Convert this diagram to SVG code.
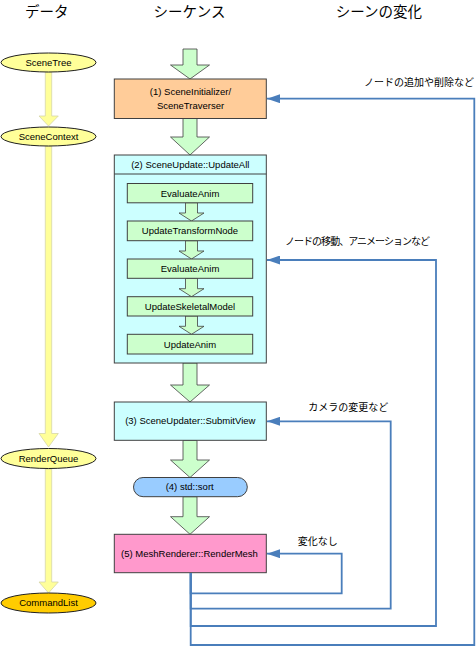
<svg xmlns="http://www.w3.org/2000/svg" width="476" height="647" viewBox="0 0 476 647">
<style>
.hdr{font-family:"Noto Sans CJK JP","Noto Sans CJK SC",sans-serif;font-size:14.5px;fill:#000;text-anchor:middle}
.lbl{font-family:"Noto Sans CJK JP","Noto Sans CJK SC",sans-serif;font-size:10px;fill:#000}
.t{font-family:"Liberation Sans",Arial,sans-serif;font-size:9.5px;fill:#000;text-anchor:middle}
.box{stroke:#404040;stroke-width:1}
.garrow{fill:#CCFFCC;stroke:#404040;stroke-width:0.8}
.yarrow{fill:#FFFF99;stroke:#D6D6A8;stroke-width:0.8}
.ell{fill:#FFFF99;stroke:#202020;stroke-width:1}
.conn{fill:none;stroke:#4A7EBB;stroke-width:1.8}
</style>
<defs>
<marker id="ah" markerUnits="userSpaceOnUse" viewBox="0 0 13 9" refX="13" refY="4.5" markerWidth="13" markerHeight="9" orient="auto">
<path d="M0,0 L13,4.5 L0,9 z" fill="#4A7EBB"/>
</marker>
</defs>

<g id="headers">
<text class="hdr" x="46.7" y="17">データ</text>
<text class="hdr" x="189.5" y="17">シーケンス</text>
<text class="hdr" x="378.8" y="17">シーンの変化</text>
</g>

<g id="data-arrows">
<path class="yarrow" d="M45.3,72 H51.7 V116 H58.3 L48.5,126 L39,116 H45.3 Z"/>
<path class="yarrow" d="M45.3,146 H51.7 V433.5 H58.3 L48.5,447 L39,433.5 H45.3 Z"/>
<path class="yarrow" d="M45.3,469 H51.7 V582 H58.3 L48.5,593 L39,582 H45.3 Z"/>
</g>

<g id="SceneTree"><ellipse class="ell" cx="48.5" cy="62.5" rx="47.5" ry="9.5"/><text class="t" x="48.5" y="65.9">SceneTree</text></g>
<g id="SceneContext"><ellipse class="ell" cx="48.5" cy="136.5" rx="47.5" ry="9.5"/><text class="t" x="48.5" y="139.9">SceneContext</text></g>
<g id="RenderQueue"><ellipse class="ell" cx="48.5" cy="458.5" rx="47.5" ry="10"/><text class="t" x="48.5" y="461.9">RenderQueue</text></g>
<g id="CommandList"><ellipse class="ell" cx="48.5" cy="603" rx="47.5" ry="10" style="fill:#FFCC00"/><text class="t" x="48.5" y="606.4">CommandList</text></g>

<g id="flow-arrows">
<path class="garrow" d="M183,49 H197 V65 H209.5 L190,79 L170.5,65 H183 Z"/>
<path class="garrow" d="M183,118.5 H197 V137 H209.5 L190,155 L170.5,137 H183 Z"/>
<path class="garrow" d="M183,363 H197 V385 H209.5 L190,402 L170.5,385 H183 Z"/>
<path class="garrow" d="M183,440.3 H197 V460 H209.5 L190,477.5 L170.5,460 H183 Z"/>
<path class="garrow" d="M183,496.7 H197 V516.7 H209.5 L190,534.3 L170.5,516.7 H183 Z"/>
</g>

<g id="step1">
<rect class="box" x="114.3" y="79" width="152" height="39.5" fill="#FFCC99"/>
<text class="t" x="190.5" y="95">(1) SceneInitializer/</text>
<text class="t" x="190.5" y="108.5">SceneTraverser</text>
</g>

<g id="step2">
<rect class="box" x="114.3" y="155" width="152" height="208" fill="#CCFFFF"/>
<line class="box" x1="114.3" y1="174" x2="266.3" y2="174"/>
<text class="t" x="190.3" y="168.4">(2) SceneUpdate::UpdateAll</text>
</g>

<g id="sub-arrows">
<path class="garrow" d="M185.5,202.7 H197.5 V213 H204 L191.5,221 L179,213 H185.5 Z"/>
<path class="garrow" d="M185.5,240.7 H197.5 V251 H204 L191.5,259 L179,251 H185.5 Z"/>
<path class="garrow" d="M185.5,278.3 H197.5 V288.7 H204 L191.5,296.7 L179,288.7 H185.5 Z"/>
<path class="garrow" d="M185.5,316 H197.5 V326.3 H204 L191.5,334.3 L179,326.3 H185.5 Z"/>
</g>

<g id="EvaluateAnim1"><rect class="box" x="127.3" y="183.5" width="125.4" height="19.3" fill="#CCFFCC"/><text class="t" x="190" y="196.7">EvaluateAnim</text></g>
<g id="UpdateTransformNode"><rect class="box" x="127.3" y="221" width="125.4" height="19.7" fill="#CCFFCC"/><text class="t" x="190" y="234.3">UpdateTransformNode</text></g>
<g id="EvaluateAnim2"><rect class="box" x="127.3" y="259" width="125.4" height="19.3" fill="#CCFFCC"/><text class="t" x="190" y="272">EvaluateAnim</text></g>
<g id="UpdateSkeletalModel"><rect class="box" x="127.3" y="296.7" width="125.4" height="19.3" fill="#CCFFCC"/><text class="t" x="190" y="309.7">UpdateSkeletalModel</text></g>
<g id="UpdateAnim"><rect class="box" x="127.3" y="334.3" width="125.4" height="19.7" fill="#CCFFCC"/><text class="t" x="190" y="347.6">UpdateAnim</text></g>

<g id="step3">
<rect class="box" x="114.3" y="402" width="152" height="38.3" fill="#CCFFFF"/>
<text class="t" x="190.3" y="424">(3) SceneUpdater::SubmitView</text>
</g>

<g id="step4">
<rect class="box" x="133.5" y="477.5" width="113.8" height="19.2" rx="9.6" ry="9.6" fill="#99CCFF"/>
<text class="t" x="189.7" y="490.4">(4) std::sort</text>
</g>

<g id="step5">
<rect class="box" x="114.3" y="534.3" width="152" height="38.4" fill="#FF99CC"/>
<text class="t" x="189.5" y="557">(5) MeshRenderer::RenderMesh</text>
</g>

<g id="connectors">
<path class="conn" d="M190.7,573 V593.3 H341.7 V553.7 H267" marker-end="url(#ah)"/>
<path class="conn" d="M190.7,573 V608.7 H390.7 V421.3 H267" marker-end="url(#ah)"/>
<path class="conn" d="M190.7,573 V626 H436 V260 H267" marker-end="url(#ah)"/>
<path class="conn" d="M190.7,573 V645 H474.3 V98.7 H267" marker-end="url(#ah)"/>
</g>

<g id="labels">
<text class="lbl" x="364" y="86.3">ノードの追加や削除など</text>
<text class="lbl" x="285" y="245.3" textLength="145" lengthAdjust="spacing">ノードの移動、アニメーションなど</text>
<text class="lbl" x="308.3" y="411.3">カメラの変更など</text>
<text class="lbl" x="297.7" y="544.6">変化なし</text>
</g>
</svg>
